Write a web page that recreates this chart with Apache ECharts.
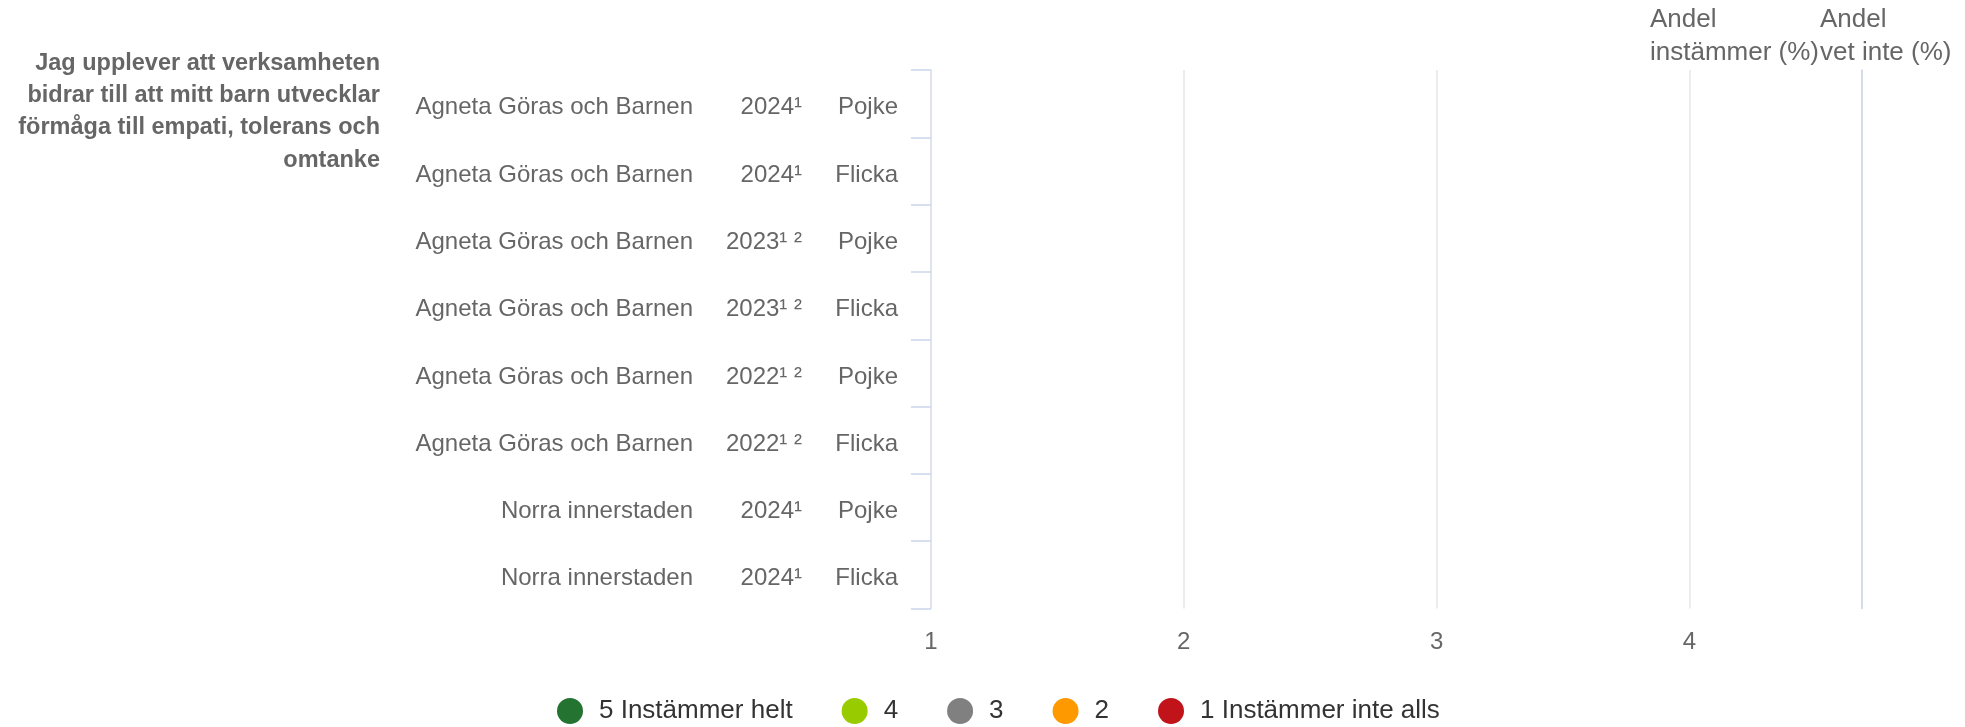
<!DOCTYPE html>
<html>
<head>
<meta charset="utf-8">
<script src="https://cdn.jsdelivr.net/npm/echarts@6/dist/echarts.min.js"></script>
<style>
  html, body { margin: 0; padding: 0; background: #fff; }
  #chart { width: 1965px; height: 727px; }
</style>
</head>
<body>
<div id="chart"></div>
<script>
  // rows, top to bottom
  const units = [
    "Agneta Göras och Barnen",
    "Agneta Göras och Barnen",
    "Agneta Göras och Barnen",
    "Agneta Göras och Barnen",
    "Agneta Göras och Barnen",
    "Agneta Göras och Barnen",
    "Norra innerstaden",
    "Norra innerstaden",
  ];
  const years = ["2024¹", "2024¹", "2023¹ ²", "2023¹ ²", "2022¹ ²", "2022¹ ²", "2024¹", "2024¹"];
  const genders = ["Pojke", "Flicka", "Pojke", "Flicka", "Pojke", "Flicka", "Pojke", "Flicka"];

  const question = "Jag upplever att verksamheten\nbidrar till att mitt barn utvecklar\nförmåga till empati, tolerans och\nomtanke";
  const columnHeaders = ["Andel\ninstämmer (%)", "Andel\nvet inte (%)"];

  const seriesNames = ["5 Instämmer helt", "4", "3", "2", "1 Instämmer inte alls"];
  // no answers shown in the reference: every cell is empty
  const answers5 = [null, null, null, null, null, null, null, null];
  const answers4 = [null, null, null, null, null, null, null, null];
  const answers3 = [null, null, null, null, null, null, null, null];
  const answers2 = [null, null, null, null, null, null, null, null];
  const answers1 = [null, null, null, null, null, null, null, null];

  const xTicks = [1, 2, 3, 4];

  const palette = ["#247330", "#99cc00", "#808080", "#ff9900", "#c0141a"];
  const font = "'Liberation Sans', Arial, Helvetica, sans-serif";

  const chart = echarts.init(document.getElementById("chart"));

  const seriesData = [answers5, answers4, answers3, answers2, answers1];

  chart.setOption({
    animation: false,
    color: palette,
    textStyle: { fontFamily: font },
    grid: { left: 931, right: 103, top: 70, bottom: 118.5, containLabel: false },
    legend: {
      left: 552,
      top: 693,
      icon: "circle",
      itemWidth: 26,
      itemHeight: 26,
      itemGap: 49,
      textStyle: { color: "#333333", fontSize: 26, fontFamily: font, padding: [0, 0, 0, 11] },
      data: seriesNames,
    },
    xAxis: {
      type: "value",
      min: xTicks[0],
      max: 4.683,
      interval: 1,
      axisLine: { show: false },
      axisTick: { show: false },
      axisLabel: {
        color: "#666666",
        fontSize: 24,
        margin: 22,
        showMaxLabel: false,
        fontFamily: font,
      },
      splitLine: { lineStyle: { color: "#e6e6e6", width: 1.5 } },
    },
    yAxis: [
      {
        type: "category",
        inverse: true,
        data: units,
        axisLine: { show: true, lineStyle: { color: "#dde0e8", width: 1.5 } },
        axisTick: { show: true, length: 20, lineStyle: { color: "#ccd6eb", width: 1.5 } },
        axisLabel: {
          margin: 33,
          padding: [8, 0, 0, 0],
          fontFamily: font,
          formatter: (value, idx) => `{n|${value}}{y|${years[idx]}}{g|${genders[idx]}}`,
          rich: {
            n: { width: 300, align: "right", color: "#666666", fontSize: 24, fontFamily: font },
            y: { width: 109, align: "right", color: "#666666", fontSize: 24, fontFamily: font },
            g: { width: 96, align: "right", color: "#666666", fontSize: 24, fontFamily: font },
          },
        },
      },
      {
        type: "category",
        inverse: true,
        position: "right",
        data: units,
        axisLine: { show: true, lineStyle: { color: "#ccd6eb", width: 1.5 } },
        axisTick: { show: false },
        axisLabel: { show: false },
      },
    ],
    graphic: [
      {
        type: "text",
        x: 380,
        y: 47,
        style: {
          text: question,
          font: `bold 23.5px ${font}`,
          fill: "#666666",
          align: "right",
          verticalAlign: "top",
          lineHeight: 32.3,
        },
      },
      {
        type: "text",
        x: 1650,
        y: 4,
        style: {
          text: columnHeaders[0],
          font: `26px ${font}`,
          fill: "#666666",
          align: "left",
          verticalAlign: "top",
          lineHeight: 32.5,
        },
      },
      {
        type: "text",
        x: 1820,
        y: 4,
        style: {
          text: columnHeaders[1],
          font: `26px ${font}`,
          fill: "#666666",
          align: "left",
          verticalAlign: "top",
          lineHeight: 32.5,
        },
      },
    ],
    series: seriesNames.map((name, i) => ({
      name,
      type: "bar",
      stack: "answers",
      yAxisIndex: 0,
      barWidth: "55%",
      data: seriesData[i],
    })),
  });
</script>
</body>
</html>
